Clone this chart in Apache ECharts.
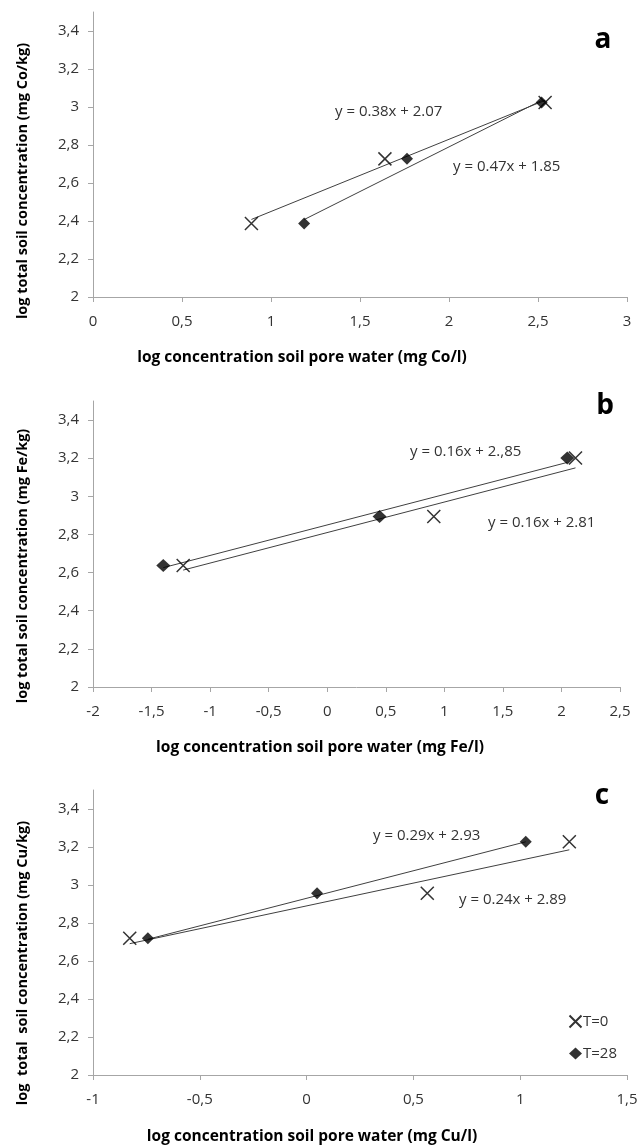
<!DOCTYPE html>
<html>
<head>
<meta charset="utf-8">
<script src="https://cdn.jsdelivr.net/npm/echarts@6/dist/echarts.min.js"></script>
<style>
  html, body { margin: 0; padding: 0; background: #fff; }
  #chart { width: 641px; height: 1145px; }
</style>
</head>
<body>
<div id="chart"></div>
<script>
// y ticks shared by the three panels
const yTicks = [2, 2.2, 2.4, 2.6, 2.8, 3, 3.2, 3.4];

// panel a - Co
const coT0X = [0.89, 1.64, 2.54];
const coT0Y = [2.387, 2.727, 3.024];
const coT28X = [1.186, 1.764, 2.52];
const coT28Y = [2.387, 2.727, 3.024];
const coFitT0 = [0.38, 2.07];
const coFitT28 = [0.47, 1.85];

// panel b - Fe
const feT0X = [-1.23, 0.91, 2.12];
const feT0Y = [2.637, 2.894, 3.201];
const feT28X = [-1.40, 0.447, 2.05];
const feT28Y = [2.637, 2.894, 3.201];
const feFitT0 = [0.16, 2.81];
const feFitT28 = [0.16, 2.85];

// panel c - Cu
const cuT0X = [-0.828, 0.565, 1.23];
const cuT0Y = [2.72, 2.957, 3.228];
const cuT28X = [-0.743, 0.049, 1.026];
const cuT28Y = [2.72, 2.957, 3.228];
const cuFitT0 = [0.24, 2.89];
const cuFitT28 = [0.29, 2.93];

const xRanges = [[0, 3], [-2, 2.5], [-1, 1.5]];

const FONT = '"Open Sans", sans-serif';
const AXIS_COLOR = '#a6a6a6';
const TEXT_COLOR = '#333';
const CROSS = 'path://M0 0L10 10M10 0L0 10';

const fmt = v => String(+(+v).toFixed(2)).replace('.', ',');
const pairs = (xs, ys) => xs.map((x, i) => [x, ys[i]]);
const fitLine = (xs, fit) => {
  const lo = Math.min(...xs), hi = Math.max(...xs);
  return [[lo, fit[0] * lo + fit[1]], [hi, fit[0] * hi + fit[1]]];
};

const grids = [
  { left: 93, top: 12, width: 534, height: 285 },
  { left: 93, top: 401, width: 527, height: 286 },
  { left: 93, top: 790, width: 534, height: 285 }
];

const xAxes = xRanges.map((r, i) => ({
  type: 'value', gridIndex: i, min: r[0], max: r[1], interval: 0.5,
  axisLine: { show: true, onZero: false, lineStyle: { color: AXIS_COLOR, width: 1 } },
  axisTick: { show: true, length: 5, lineStyle: { color: AXIS_COLOR } },
  axisLabel: { color: TEXT_COLOR, fontFamily: FONT, fontSize: 15, margin: 17, formatter: fmt, showMinLabel: true, showMaxLabel: true },
  splitLine: { show: false }
}));

const yAxes = [0, 1, 2].map(i => ({
  type: 'value', gridIndex: i, min: 2, max: 3.5,
  axisLine: { show: true, onZero: false, lineStyle: { color: AXIS_COLOR, width: 1 } },
  axisTick: { show: true, length: 5, customValues: yTicks, lineStyle: { color: AXIS_COLOR } },
  axisLabel: { color: TEXT_COLOR, fontFamily: FONT, fontSize: 15, margin: 14, formatter: fmt, customValues: yTicks },
  splitLine: { show: false }
}));

function scatter(name, i, xs, ys, isCross, size) {
  return {
    name: name, type: 'scatter', xAxisIndex: i, yAxisIndex: i,
    data: pairs(xs, ys),
    symbol: isCross ? CROSS : 'diamond',
    symbolSize: size,
    itemStyle: isCross
      ? { color: 'none', borderColor: '#000', borderWidth: 1.5 }
      : { color: '#000' },
    emphasis: { disabled: true },
    z: 3
  };
}

function trend(i, xs, fit) {
  return {
    type: 'line', xAxisIndex: i, yAxisIndex: i,
    data: fitLine(xs, fit),
    showSymbol: false, symbol: 'none',
    lineStyle: { color: '#404040', width: 1 },
    emphasis: { disabled: true },
    z: 2
  };
}

const series = [
  trend(0, coT0X, coFitT0), trend(0, coT28X, coFitT28),
  scatter('T=0', 0, coT0X, coT0Y, true, 13), scatter('T=28', 0, coT28X, coT28Y, false, [12, 12]),
  trend(1, feT0X, feFitT0), trend(1, feT28X, feFitT28),
  scatter('T=0', 1, feT0X, feT0Y, true, 13), scatter('T=28', 1, feT28X, feT28Y, false, [14, 13]),
  trend(2, cuT0X, cuFitT0), trend(2, cuT28X, cuFitT28),
  scatter('T=0', 2, cuT0X, cuT0Y, true, 13), scatter('T=28', 2, cuT28X, cuT28Y, false, [12, 12])
];

function txt(x, y, s, opts) {
  return {
    type: 'text', x: x, y: y,
    style: Object.assign({
      text: s, fill: TEXT_COLOR, font: '15px ' + FONT,
      textAlign: 'left', textVerticalAlign: 'middle'
    }, opts || {})
  };
}

const yTitles = ['log total soil concentration (mg Co/kg)',
  'log total soil concentration (mg Fe/kg)',
  'log  total  soil concentration (mg Cu/kg)'];
const xTitles = ['log concentration soil pore water (mg Co/l)',
  'log concentration soil pore water (mg Fe/l)',
  'log concentration soil pore water (mg Cu/l)'];
const yTitleY = [181, 566, 963];
const xTitlePos = [[302, 358], [320, 748], [312, 1137]];

const graphic = [];
yTitles.forEach((t, i) => {
  graphic.push({
    type: 'text', x: 23, y: yTitleY[i], rotation: Math.PI / 2,
    style: { text: t, fill: '#000', font: 'bold 14.5px ' + FONT, textAlign: 'center', textVerticalAlign: 'middle' }
  });
});
xTitles.forEach((t, i) => {
  graphic.push(txt(xTitlePos[i][0], xTitlePos[i][1], t,
    { fill: '#000', font: 'bold 15.5px ' + FONT, textAlign: 'center' }));
});
[['a', 603, 40], ['b', 605, 406], ['c', 602, 796]].forEach(p => {
  graphic.push(txt(p[1], p[2], p[0], { fill: '#000', font: 'bold 28px ' + FONT, textAlign: 'center' }));
});
[['y = 0.38x + 2.07', 335, 112], ['y = 0.47x + 1.85', 453, 167],
 ['y = 0.16x + 2.,85', 410, 452], ['y = 0.16x + 2.81', 488, 523],
 ['y = 0.29x + 2.93', 373, 836], ['y = 0.24x + 2.89', 459, 900]].forEach(p => {
  graphic.push(txt(p[1], p[2], p[0], { font: '15px ' + FONT }));
});

const chart = echarts.init(document.getElementById('chart'));
chart.setOption({
  backgroundColor: '#fff',
  animation: false,
  grid: grids,
  xAxis: xAxes,
  yAxis: yAxes,
  series: series,
  legend: {
    data: ['T=0', 'T=28'],
    orient: 'vertical',
    left: 562, top: 1008,
    itemWidth: 13, itemHeight: 12, itemGap: 16,
    textStyle: { color: TEXT_COLOR, fontFamily: FONT, fontSize: 15, padding: [0, 0, 0, -4] },
    selectedMode: false
  },
  graphic: graphic
});
</script>
</body>
</html>
